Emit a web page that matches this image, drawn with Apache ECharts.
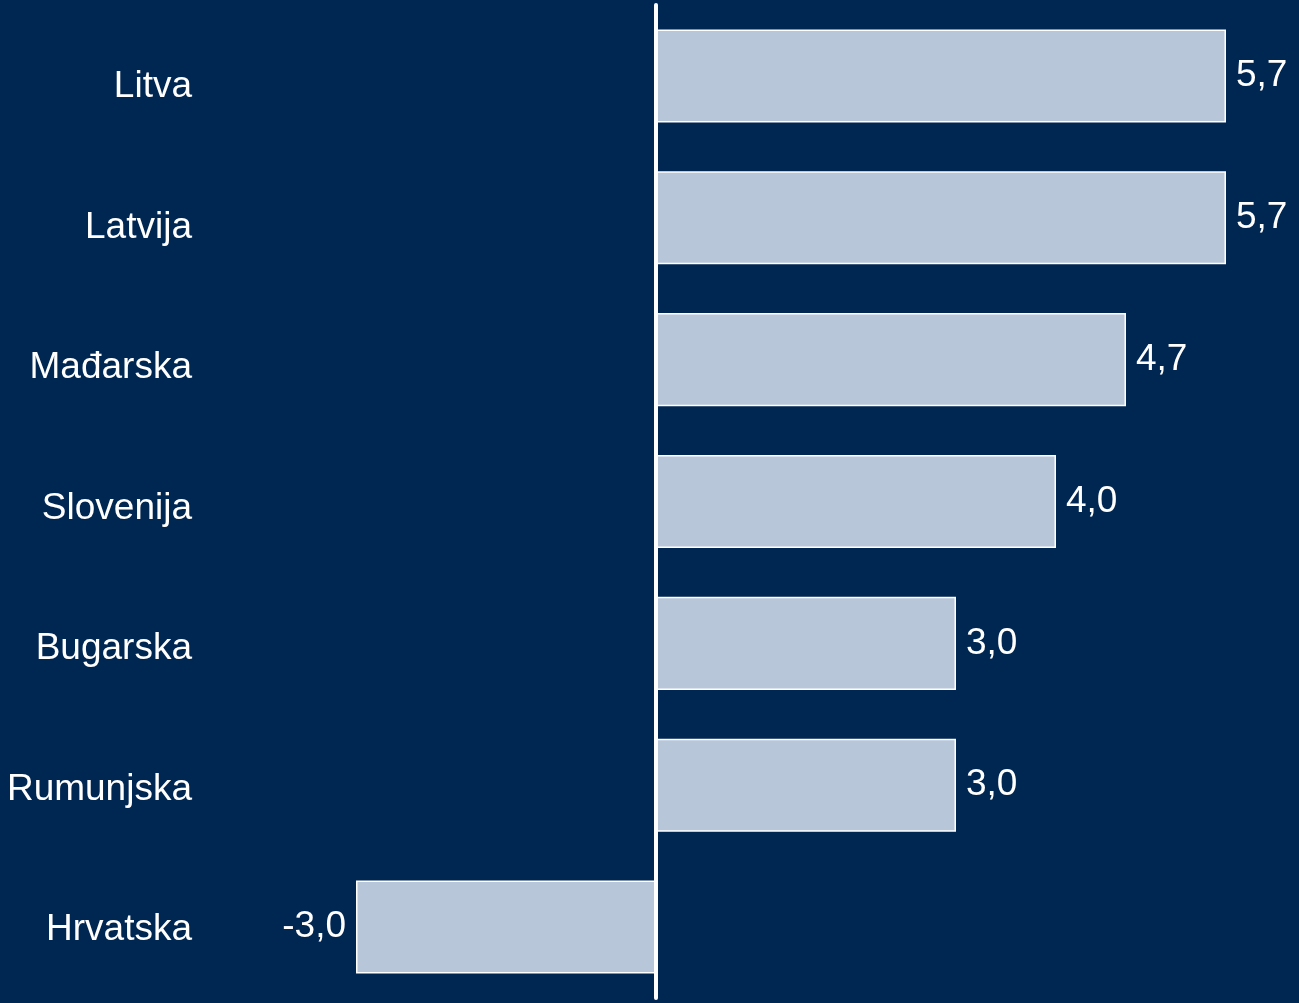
<!DOCTYPE html>
<html>
<head>
<meta charset="utf-8">
<script src="https://cdn.jsdelivr.net/npm/echarts@6/dist/echarts.min.js"></script>
<style>
html,body{margin:0;padding:0;background:#002652;}
#chart{width:1299px;height:1003px;}
</style>
</head>
<body>
<div id="chart"></div>
<script>
const categories = ['Litva','Latvija','Mađarska','Slovenija','Bugarska','Rumunjska','Hrvatska'];
const values = [5.7, 5.7, 4.7, 4.0, 3.0, 3.0, -3.0];

const chart = echarts.init(document.getElementById('chart'));
const fmt = v => v.toFixed(1).replace('.', ',');
const font = 'Liberation Sans, Arial, sans-serif';
chart.setOption({
  backgroundColor: '#002652',
  animation: false,
  grid: [
    {left: 206, right: 3, top: 5, bottom: 5, containLabel: false},
    {left: 206, right: 3, top: 17, bottom: 3, containLabel: false}
  ],
  xAxis: [
    {type: 'value', min: -4.5, max: 6.4, show: false, gridIndex: 0},
    {type: 'value', min: -4.5, max: 6.4, show: false, gridIndex: 1}
  ],
  yAxis: [
    {
      type: 'category', data: categories, inverse: true, gridIndex: 0,
      axisLine: {show: false}, axisTick: {show: false}, axisLabel: {show: false}
    },
    {
      type: 'category', data: categories, inverse: true, gridIndex: 1,
      axisLine: {show: false}, axisTick: {show: false}, splitLine: {show: false},
      axisLabel: {color: '#ffffff', fontSize: 37, fontFamily: font, margin: 14}
    }
  ],
  series: [{
    type: 'bar',
    xAxisIndex: 0, yAxisIndex: 0,
    data: values.map(v => ({
      value: v,
      label: {position: v < 0 ? 'left' : 'right'}
    })),
    barCategoryGap: '34.4%',
    itemStyle: {color: '#B8C6D9', borderColor: '#ffffff', borderWidth: 1.5},
    label: {
      show: true, color: '#ffffff', fontSize: 37,
      fontFamily: font, distance: 10,
      formatter: p => fmt(p.value)
    },
    markLine: {
      silent: true, symbol: ['none','none'],
      label: {show: false},
      lineStyle: {color: '#ffffff', width: 4, type: 'solid', cap: 'round'},
      data: [{xAxis: 0}]
    }
  }]
});
</script>
</body>
</html>
